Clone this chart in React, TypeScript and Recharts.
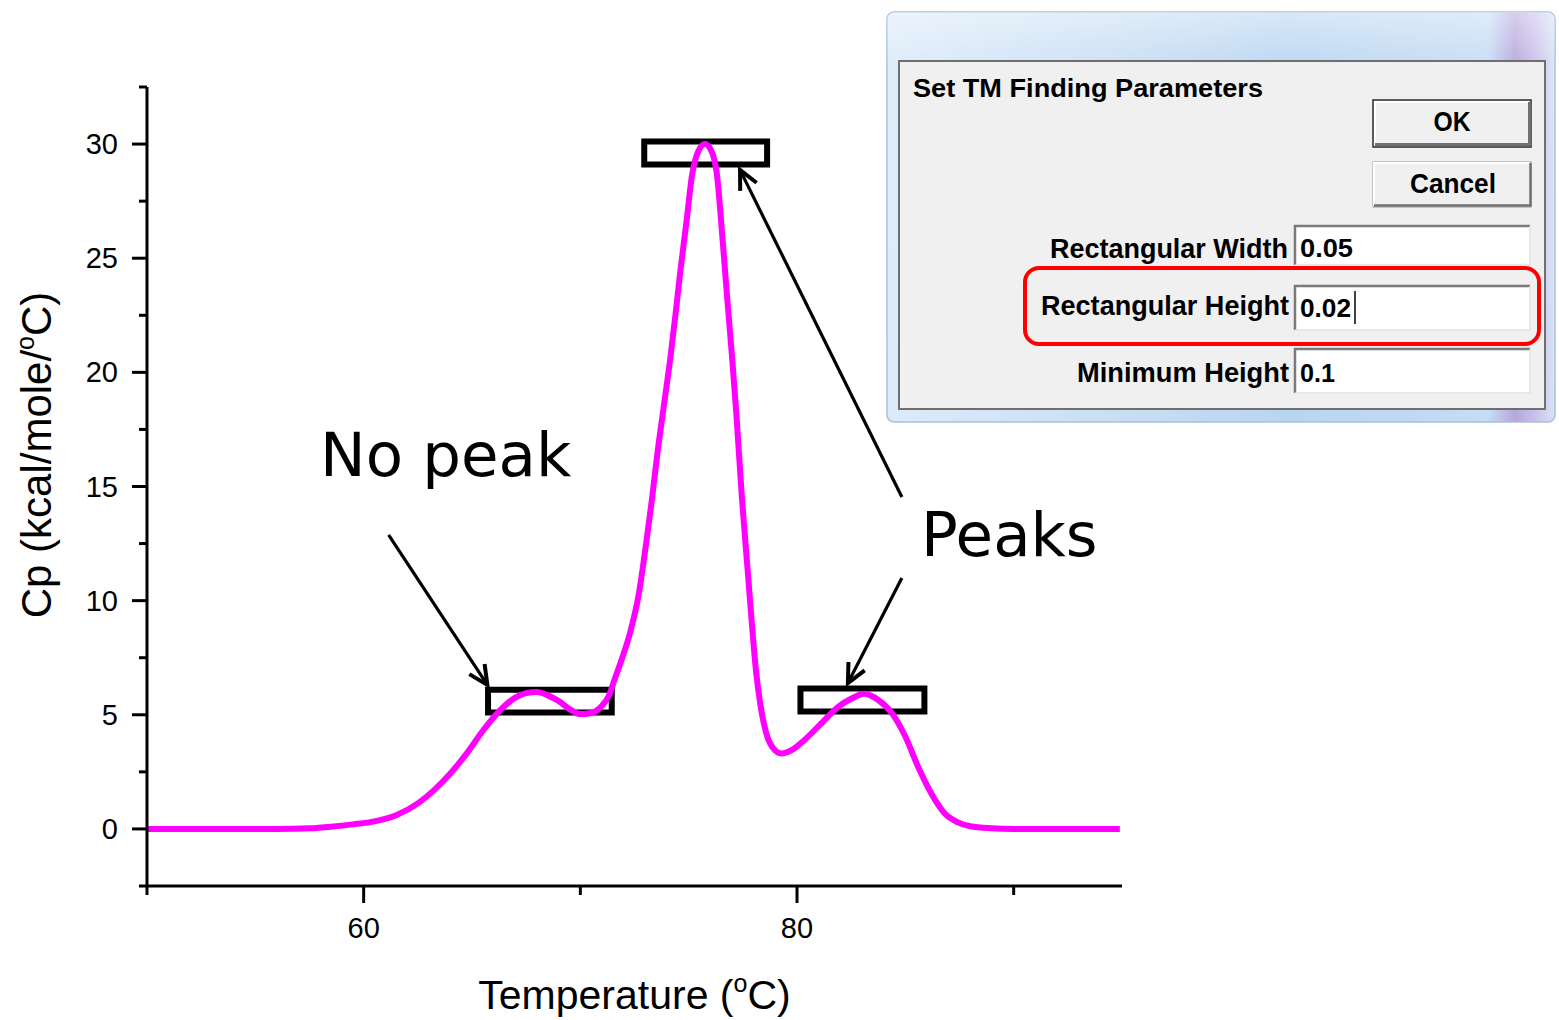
import React from "react";
import { LineChart, Line, XAxis, YAxis, ReferenceArea, ReferenceLine } from "recharts";

// Cp trace (temperature in °C, Cp in kcal/mole/°C)
const temps = [
  50, 52, 54, 56, 57.5, 58.5, 59.5, 60.5, 61.5, 62.5, 63.25, 64, 64.75, 65.5, 66.25,
  67, 67.5, 68, 68.5, 69, 69.5, 70, 70.5, 71, 71.3, 71.6, 71.9, 72.3, 72.7, 73.05,
  73.3, 73.55, 73.85, 74.15, 74.4, 74.6, 74.9, 75.15, 75.45, 75.75, 76.05, 76.3,
  76.55, 76.75, 77.0, 77.2, 77.45, 77.7, 77.9, 78.1, 78.3, 78.55, 78.85, 79.3, 79.75,
  80.35, 81.1, 81.9, 82.5, 83.1, 83.75, 84.4, 85.0, 85.6, 86.2, 86.8, 87.4, 88.0, 89,
  90, 92, 94.9,
];
const cp = [
  0, 0, 0, 0, 0.03, 0.1, 0.2, 0.33, 0.6, 1.12, 1.7, 2.43, 3.3, 4.3, 5.15,
  5.75, 5.95, 6.0, 5.85, 5.6, 5.25, 5.03, 5.08, 5.4, 5.8, 6.6, 7.4, 8.6, 10.3, 12.6,
  14.4, 16.4, 18.5, 20.6, 22.6, 24.3, 26.6, 28.6, 29.7, 30.0, 29.7, 28.7,
  26.0, 23.6, 20.7, 18.2, 14.6, 11.6, 9.2, 7.0, 5.5, 4.3, 3.6, 3.3, 3.45,
  3.9, 4.6, 5.35, 5.7, 5.92, 5.65, 5.05, 4.05, 2.7, 1.55, 0.7, 0.3, 0.12, 0.03,
  0, 0, 0,
];

const xTicks = [50, 60, 70, 80, 90];
const xLabeled = [60, 80];
const yTicks = [-2.5, 0, 2.5, 5, 7.5, 10, 12.5, 15, 17.5, 20, 22.5, 25, 27.5, 30, 32.5];
const yLabeled = [0, 5, 10, 15, 20, 25, 30];

// search rectangles (data units)
const boxes = [
  { x1: 72.95, x2: 78.62, y1: 29.1, y2: 30.11 },
  { x1: 65.74, x2: 71.45, y1: 5.1, y2: 6.1 },
  { x1: 80.16, x2: 85.88, y1: 5.14, y2: 6.15 },
];

// annotation arrows: from text to box
const arrows = [
  [{ x: 61.15, y: 12.88 }, { x: 65.71, y: 6.31 }],
  [{ x: 84.84, y: 14.54 }, { x: 77.37, y: 28.87 }],
  [{ x: 84.84, y: 10.99 }, { x: 82.35, y: 6.39 }],
];

const data = temps.map((t, i) => ({ t, cp: cp[i] }));

const AXIS_FONT = "'Liberation Sans', Arial, sans-serif";
const DLG_FONT = "'Liberation Sans', Arial, sans-serif";

const XTick = (props: any) => {
  const { x, y, payload } = props;
  const major = xLabeled.includes(payload.value);
  return (
    <g>
      <line x1={x} x2={x} y1={y} y2={y + (major ? 17 : 9)} stroke="#000" strokeWidth={3} />
      {major && (
        <text x={x} y={y + 52} textAnchor="middle" fontSize={29} fontFamily={AXIS_FONT} fill="#000">
          {payload.value}
        </text>
      )}
    </g>
  );
};

const YTick = (props: any) => {
  const { x, y, payload } = props;
  const major = yLabeled.includes(payload.value);
  return (
    <g>
      <line x1={x - (major ? 15 : 8)} x2={x} y1={y} y2={y} stroke="#000" strokeWidth={3} />
      {major && (
        <text x={x - 29} y={y + 10} textAnchor="end" fontSize={29} fontFamily={AXIS_FONT} fill="#000">
          {payload.value}
        </text>
      )}
    </g>
  );
};

const Arrow = (props: any) => {
  const { x1, y1, x2, y2 } = props;
  const ang = Math.atan2(y2 - y1, x2 - x1);
  const len = 21;
  const spread = 0.45;
  const ax = x2 - len * Math.cos(ang - spread);
  const ay = y2 - len * Math.sin(ang - spread);
  const bx = x2 - len * Math.cos(ang + spread);
  const by = y2 - len * Math.sin(ang + spread);
  return (
    <g>
      <line x1={x1} y1={y1} x2={x2} y2={y2} stroke="#000" strokeWidth={3.2} />
      <polyline points={`${ax},${ay} ${x2},${y2} ${bx},${by}`} fill="none" stroke="#000" strokeWidth={4} />
    </g>
  );
};

const XTitle = (props: any) => {
  const vb = props.viewBox || { x: 147, y: 886, width: 975 };
  return (
    <text x={vb.x + vb.width / 2} y={vb.y + 123} textAnchor="middle" fontSize={41} fontFamily={AXIS_FONT} fill="#000">
      Temperature (<tspan fontSize={25} dy={-17}>o</tspan>
      <tspan dy={17}>C)</tspan>
    </text>
  );
};

const YTitle = () => (
  <text
    x={51}
    y={455}
    transform="rotate(-90 51 455)"
    textAnchor="middle"
    fontSize={42}
    fontFamily={AXIS_FONT}
    fill="#000"
  >
    Cp (kcal/mole/<tspan fontSize={25} dy={-17}>o</tspan>
    <tspan dy={17}>C)</tspan>
  </text>
);

function Dialog() {
  return (
    <g fontFamily={DLG_FONT}>
      <defs>
        <linearGradient id="aero" x1="0" y1="0" x2="1" y2="0">
          <stop offset="0%" stopColor="#dcebfa" />
          <stop offset="35%" stopColor="#c9def4" />
          <stop offset="60%" stopColor="#b8d5f1" />
          <stop offset="90%" stopColor="#c6dcf4" />
          <stop offset="94%" stopColor="#b7a6dc" />
          <stop offset="97%" stopColor="#c9c0ea" />
          <stop offset="100%" stopColor="#d8e4f6" />
        </linearGradient>
        <linearGradient id="aeroV" x1="0" y1="0" x2="0" y2="1">
          <stop offset="0%" stopColor="#ffffff" stopOpacity={0.45} />
          <stop offset="12%" stopColor="#ffffff" stopOpacity={0.1} />
          <stop offset="100%" stopColor="#ffffff" stopOpacity={0} />
        </linearGradient>
      </defs>
      <rect x={887} y={12} width={668} height={410} rx={7} fill="url(#aero)" stroke="#a9c0d8" strokeWidth={1.5} />
      <rect x={887} y={12} width={668} height={410} rx={7} fill="url(#aeroV)" />
      <rect x={899} y={61} width={646} height={348} fill="#f0f0f0" stroke="#6f6f6f" strokeWidth={2} />

      <text x={913} y={97} fontSize={26} fontWeight="bold" fill="#000" textLength={350} lengthAdjust="spacingAndGlyphs">
        Set TM Finding Parameters
      </text>

      {/* OK button */}
      <rect x={1373} y={100} width={158} height={47} fill="#f0f0f0" stroke="#2a2a2a" strokeWidth={1.5} />
      <polyline points="1375,145 1375,102 1529,102" fill="none" stroke="#ffffff" strokeWidth={2} />
      <polyline points="1375,144.5 1529.5,144.5 1529.5,102" fill="none" stroke="#707070" strokeWidth={3} />
      <text x={1452} y={131} fontSize={27} fontWeight="bold" textAnchor="middle" fill="#000" textLength={37} lengthAdjust="spacingAndGlyphs">
        OK
      </text>

      {/* Cancel button */}
      <rect x={1373} y={162} width={158} height={45} fill="#f0f0f0" stroke="#9a9a9a" strokeWidth={1} />
      <polyline points="1374,206 1374,163 1530,163" fill="none" stroke="#ffffff" strokeWidth={2} />
      <polyline points="1374,205.5 1530.5,205.5 1530.5,163" fill="none" stroke="#707070" strokeWidth={2.5} />
      <text x={1453} y={193} fontSize={27} fontWeight="bold" textAnchor="middle" fill="#000" textLength={86} lengthAdjust="spacingAndGlyphs">
        Cancel
      </text>

      {/* labels */}
      <text x={1288} y={258} fontSize={27} fontWeight="bold" textAnchor="end" fill="#000" textLength={238} lengthAdjust="spacingAndGlyphs">
        Rectangular Width
      </text>
      <text x={1289} y={315} fontSize={27} fontWeight="bold" textAnchor="end" fill="#000" textLength={248} lengthAdjust="spacingAndGlyphs">
        Rectangular Height
      </text>
      <text x={1289} y={382} fontSize={27} fontWeight="bold" textAnchor="end" fill="#000" textLength={212} lengthAdjust="spacingAndGlyphs">
        Minimum Height
      </text>

      {/* inputs */}
      {[
        { y: 225, h: 40 },
        { y: 285, h: 45 },
        { y: 348, h: 45 },
      ].map((b, i) => (
        <g key={i}>
          <rect x={1294} y={b.y} width={236} height={b.h} fill="#ffffff" />
          <polyline points={`${1295},${b.y + b.h} ${1295},${b.y + 1} ${1530},${b.y + 1}`} fill="none" stroke="#7a7a7a" strokeWidth={2.5} />
          <polyline points={`${1295},${b.y + b.h} ${1530},${b.y + b.h} ${1530},${b.y + 1}`} fill="none" stroke="#e2e2e2" strokeWidth={1.5} />
        </g>
      ))}
      <text x={1300} y={257} fontSize={26} fontWeight="bold" fill="#000" textLength={53} lengthAdjust="spacingAndGlyphs">
        0.05
      </text>
      <text x={1300} y={317} fontSize={26} fontWeight="bold" fill="#000" textLength={51} lengthAdjust="spacingAndGlyphs">
        0.02
      </text>
      <line x1={1355} x2={1355} y1={291} y2={324} stroke="#000" strokeWidth={1.5} />
      <text x={1300} y={382} fontSize={26} fontWeight="bold" fill="#000" textLength={35} lengthAdjust="spacingAndGlyphs">
        0.1
      </text>

      {/* red highlight */}
      <rect x={1025} y={268} width={514} height={76} rx={14} fill="none" stroke="#ff0000" strokeWidth={4} />
    </g>
  );
}

export default function App() {
  return (
    <div style={{ position: "absolute", left: 0, top: 0, width: 1559, height: 1020, background: "#fff" }}>
      <LineChart
        width={1559}
        height={1020}
        data={data}
        margin={{ top: 87, right: 437, bottom: 74, left: 87 }}
      >
        <XAxis
          dataKey="t"
          type="number"
          domain={[50, 95]}
          ticks={xTicks}
          interval={0}
          height={60}
          tickSize={0}
          tickMargin={0}
          tick={<XTick />}
          axisLine={{ stroke: "#000", strokeWidth: 3 }}
          tickLine={false}
          label={<XTitle />}
        />
        <YAxis
          type="number"
          domain={[-2.5, 32.5]}
          ticks={yTicks}
          interval={0}
          width={60}
          tickSize={0}
          tickMargin={0}
          tick={<YTick />}
          axisLine={{ stroke: "#000", strokeWidth: 3 }}
          tickLine={false}
          label={<YTitle />}
        />
        <Line
          type="monotone"
          dataKey="cp"
          stroke="#ff00ff"
          strokeWidth={6}
          dot={false}
          isAnimationActive={false}
        />
        {boxes.map((b, i) => (
          <ReferenceArea
            key={`box-${i}`}
            x1={b.x1}
            x2={b.x2}
            y1={b.y1}
            y2={b.y2}
            fill="none"
            fillOpacity={0}
            stroke="#000"
            strokeWidth={6}
            ifOverflow="visible"
          />
        ))}
        {arrows.map((seg, i) => (
          <ReferenceLine key={`arrow-${i}`} segment={seg} shape={<Arrow />} ifOverflow="visible" />
        ))}
      </LineChart>
      <svg
        width={1559}
        height={1020}
        style={{ position: "absolute", left: 0, top: 0, pointerEvents: "none" }}
      >
        <text x={320} y={476} fontSize={61} fontFamily="'DejaVu Sans', Verdana, sans-serif" fill="#000">
          No peak
        </text>
        <text x={921} y={556} fontSize={61} fontFamily="'DejaVu Sans', Verdana, sans-serif" fill="#000">
          Peaks
        </text>
        <Dialog />
      </svg>
    </div>
  );
}
